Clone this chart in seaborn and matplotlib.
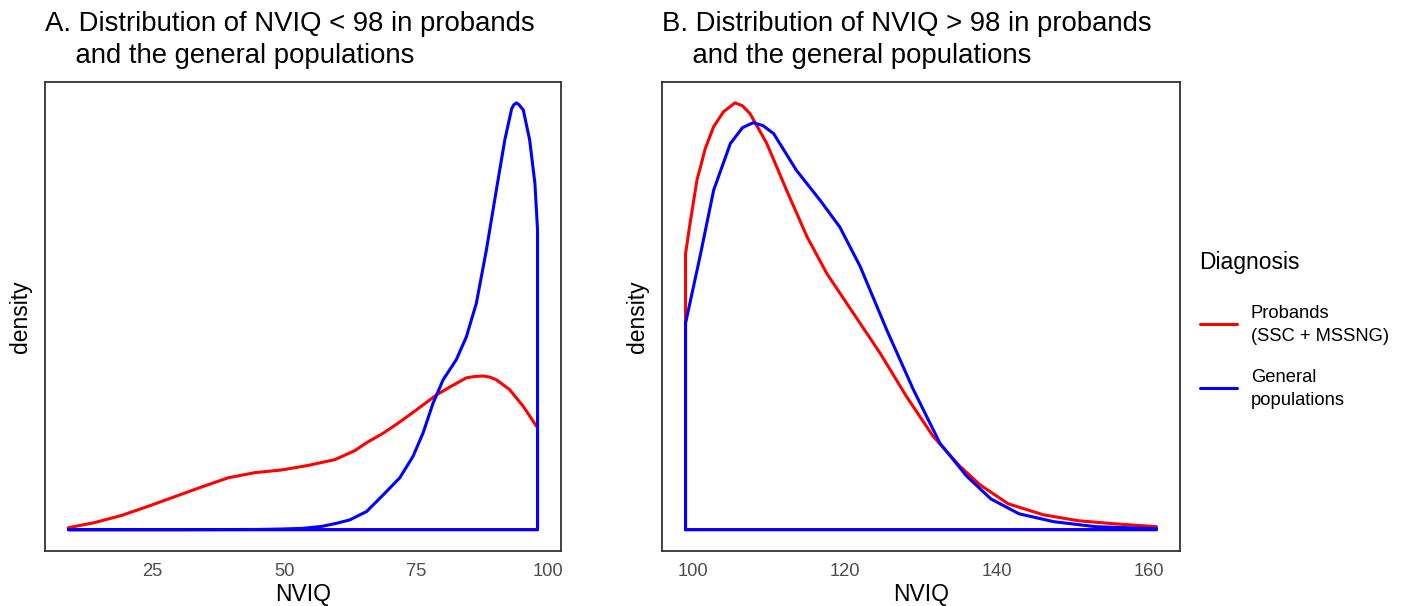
#!/usr/bin/env python3
"""Density outlines of NVIQ below / above 98 for probands vs general populations."""

import matplotlib.pyplot as plt
import pandas as pd
import seaborn as sns
from matplotlib.lines import Line2D

PROBAND_LABEL = "Probands\n(SSC + MSSNG)"
GENERAL_LABEL = "General\npopulations"
COLORS = {PROBAND_LABEL: "#FF0000", GENERAL_LABEL: "#0000FF"}

# panel A: NVIQ < 98
low_proband_nviq = [9.1, 14.1, 19.2, 24.2, 29.3, 34.4, 39.4, 44.5, 49.5, 54.5, 59.6,
                    63.4, 65.6, 68.8, 71.9, 75.1, 78.9, 81.4, 84.5, 86.0, 87.7, 89.0,
                    90.2, 92.7, 95.3, 98.0]
low_proband_density = [0.0003, 0.0011, 0.0022, 0.0036, 0.0051, 0.0066, 0.0080, 0.0088,
                       0.0092, 0.0099, 0.0108, 0.0122, 0.0134, 0.0149, 0.0166, 0.0185,
                       0.0208, 0.0220, 0.0234, 0.0236, 0.0237, 0.0235, 0.0231, 0.0216,
                       0.0190, 0.0157]
low_general_nviq = [9.1, 30.0, 45.0, 49.5, 53.5, 57.1, 60.0, 62.4, 65.6, 68.8, 71.9,
                    74.4, 76.3, 78.2, 80.1, 82.6, 84.5, 86.4, 88.3, 90.2, 91.8, 93.1,
                    93.5, 94.0, 94.5, 95.3, 96.5, 97.5, 98.0]
low_general_density = [0.0000, 0.0000, 0.00003, 0.0001, 0.0002, 0.0005, 0.0010, 0.0015,
                       0.0028, 0.0054, 0.0080, 0.0113, 0.0149, 0.0195, 0.0231, 0.0262,
                       0.0297, 0.0349, 0.0431, 0.0524, 0.0601, 0.0649, 0.0655, 0.0658,
                       0.0655, 0.0647, 0.0601, 0.0534, 0.0462]

# panel B: NVIQ > 98
high_proband_nviq = [99.0, 99.6, 100.5, 101.6, 102.7, 104.0, 105.5, 106.5, 107.5, 109.7,
                     112.3, 115.0, 117.6, 121.1, 124.6, 128.1, 131.6, 135.1, 137.8,
                     141.5, 146.1, 150.7, 155.3, 161.0]
high_proband_density = [0.0278, 0.0309, 0.0352, 0.0384, 0.0406, 0.0421, 0.0430, 0.0427,
                        0.0419, 0.0389, 0.0342, 0.0295, 0.0258, 0.0218, 0.0178, 0.0134,
                        0.0094, 0.0064, 0.0045, 0.0026, 0.0015, 0.0009, 0.0006, 0.0003]
high_general_nviq = [99.0, 100.9, 102.7, 104.9, 106.5, 107.9, 109.2, 110.6, 113.6, 116.7,
                     119.3, 122.0, 125.5, 129.0, 132.5, 136.0, 139.2, 142.9, 147.5,
                     153.0, 161.0]
high_general_density = [0.0208, 0.0275, 0.0342, 0.0389, 0.0405, 0.0410, 0.0407, 0.0399,
                        0.0362, 0.0332, 0.0305, 0.0265, 0.0201, 0.0141, 0.0087, 0.0054,
                        0.0031, 0.0016, 0.0008, 0.0003, 0.0001]

low_ticks = [25, 50, 75, 100]
high_ticks = [100, 120, 140, 160]

TITLE_A = "A. Distribution of NVIQ < 98 in probands\n    and the general populations"
TITLE_B = "B. Distribution of NVIQ > 98 in probands\n    and the general populations"

TITLE_FONTSIZE = 19.8
LABEL_FONTSIZE = 16.5
TICK_FONTSIZE = 13.2
DARK = "#333333"


def outline(nviq, density, label):
    # closed outline like geom_density: up from baseline, along curve, down, back
    xs = [nviq[0]] + list(nviq) + [nviq[-1], nviq[0]]
    ys = [0.0] + list(density) + [0.0, 0.0]
    return pd.DataFrame({"NVIQ": xs, "density": ys, "Diagnosis": label})


def draw_panel(ax, curves, ticks, title):
    df = pd.concat([outline(*c) for c in curves], ignore_index=True)
    sns.lineplot(data=df, x="NVIQ", y="density", hue="Diagnosis",
                 hue_order=[PROBAND_LABEL, GENERAL_LABEL], palette=COLORS,
                 sort=False, estimator=None, legend=False, linewidth=2.2,
                 solid_joinstyle="round", ax=ax)
    xmin, xmax = df["NVIQ"].min(), df["NVIQ"].max()
    ymax = df["density"].max()
    ax.set_xlim(xmin - 0.05 * (xmax - xmin), xmax + 0.05 * (xmax - xmin))
    ax.set_ylim(-0.05 * ymax, 1.05 * ymax)
    ax.set_xticks(ticks)
    ax.set_yticks([])
    ax.tick_params(axis="x", labelsize=TICK_FONTSIZE, labelcolor="#4D4D4D",
                   color=DARK, length=3.6, width=1.3, pad=5)
    for sp in ax.spines.values():
        sp.set_color(DARK)
        sp.set_linewidth(1.3)
    ax.set_xlabel("NVIQ", fontsize=LABEL_FONTSIZE, labelpad=2, color="black")
    ax.set_ylabel("density", fontsize=LABEL_FONTSIZE, labelpad=9, color="black")
    ax.set_title(title, loc="left", fontsize=TITLE_FONTSIZE, pad=13.5,
                 linespacing=1.31, color="black")


def main():
    sns.set_style("white")
    plt.rcParams["font.family"] = ["Liberation Sans", "DejaVu Sans"]

    W, H = 1411, 606
    fig = plt.figure(figsize=(W / 100, H / 100), dpi=100)
    ax_a = fig.add_axes([45 / W, 1 - 551 / H, 516 / W, 469.5 / H])
    ax_b = fig.add_axes([662 / W, 1 - 551 / H, 518 / W, 469.5 / H])

    draw_panel(ax_a, [(low_proband_nviq, low_proband_density, PROBAND_LABEL),
                      (low_general_nviq, low_general_density, GENERAL_LABEL)],
               low_ticks, TITLE_A)
    draw_panel(ax_b, [(high_proband_nviq, high_proband_density, PROBAND_LABEL),
                      (high_general_nviq, high_general_density, GENERAL_LABEL)],
               high_ticks, TITLE_B)

    # legend drawn by hand to match the ggplot layout
    fig.text(1199 / W, 1 - 263 / H, "Diagnosis", fontsize=LABEL_FONTSIZE,
             ha="left", va="center", color="black")
    for label, ypix in [(PROBAND_LABEL, 324), (GENERAL_LABEL, 388)]:
        yf = 1 - ypix / H
        fig.add_artist(Line2D([1200 / W, 1237 / W], [yf, yf], color=COLORS[label],
                              linewidth=2.2, transform=fig.transFigure))
        fig.text(1251 / W, yf - 1 / H, label, fontsize=TICK_FONTSIZE, ha="left",
                 va="center", linespacing=1.42, color="black")

    fig.savefig("out.png", dpi=100)


if __name__ == "__main__":
    main()
